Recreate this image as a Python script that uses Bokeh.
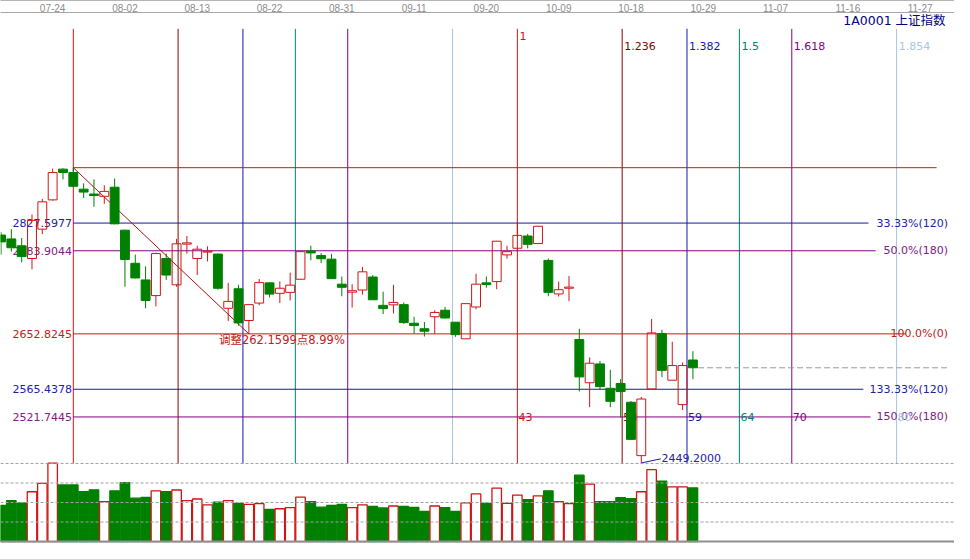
import numpy as np
from bokeh.plotting import figure
from bokeh.models import Range1d, LinearAxis, FixedTicker, Span, ColumnDataSource
from bokeh.core.properties import value
from bokeh.embed import file_html
from bokeh.resources import INLINE

# ---------------- data ----------------
opens = [2808.7, 2802.6, 2791.8, 2771.7, 2818.0, 2864.2, 2912.7, 2907.3, 2881.1, 2873.4,
         2869.8, 2884.2, 2816.4, 2764.1, 2737.9, 2713.2, 2771.7, 2730.2, 2794.4, 2771.7,
         2781.8, 2778.7, 2693.2, 2724.0, 2673.9, 2701.4, 2733.3, 2716.8, 2718.3, 2739.0,
         2783.6, 2776.4, 2770.7, 2731.2, 2718.6, 2722.0, 2742.5, 2697.8, 2698.6, 2698.9,
         2669.6, 2660.9, 2679.8, 2690.1, 2671.2, 2645.0, 2695.2, 2733.3, 2735.3, 2777.4,
         2787.9, 2807.2, 2795.3, 2768.7, 2715.8, 2724.8, 2643.9, 2575.7, 2605.4, 2566.9,
         2574.6, 2544.9, 2460.7, 2565.9, 2653.2, 2579.7, 2541.2, 2611.6]
highs = [2813.3, 2818.0, 2804.1, 2841.1, 2865.7, 2913.5, 2914.2, 2914.98, 2890.3, 2896.5,
         2887.2, 2898.0, 2817.2, 2777.9, 2759.4, 2781.0, 2779.5, 2802.6, 2807.2, 2791.8,
         2791.0, 2779.5, 2733.3, 2730.2, 2699.4, 2739.4, 2734.0, 2735.6, 2749.4, 2783.3,
         2791.8, 2780.2, 2779.0, 2743.3, 2731.2, 2758.4, 2745.6, 2719.4, 2730.2, 2702.4,
         2679.8, 2671.6, 2690.1, 2695.2, 2671.7, 2700.9, 2747.6, 2743.3, 2799.5, 2791.8,
         2828.0, 2810.7, 2823.3, 2771.8, 2735.2, 2744.0, 2660.9, 2615.7, 2610.1, 2596.2,
         2581.6, 2546.9, 2553.5, 2676.3, 2659.3, 2640.4, 2607.7, 2625.4]
lows = [2777.9, 2782.5, 2765.6, 2754.8, 2810.3, 2863.0, 2896.5, 2884.2, 2867.2, 2853.4,
        2858.0, 2825.7, 2727.1, 2740.2, 2693.2, 2696.3, 2737.9, 2727.1, 2779.5, 2745.6,
        2767.1, 2722.5, 2673.2, 2665.5, 2652.82, 2697.8, 2710.2, 2701.4, 2705.5, 2738.7,
        2769.0, 2764.5, 2739.4, 2712.2, 2694.3, 2714.8, 2706.3, 2684.0, 2685.0, 2668.6,
        2653.2, 2648.6, 2653.2, 2677.3, 2648.1, 2644.7, 2691.7, 2725.6, 2723.3, 2771.7,
        2782.5, 2787.6, 2794.9, 2712.2, 2711.7, 2704.4, 2561.9, 2537.2, 2565.4, 2537.2,
        2520.7, 2485.3, 2449.2, 2565.4, 2584.6, 2579.3, 2532.6, 2581.3]
closes = [2797.9, 2788.7, 2774.8, 2831.8, 2861.1, 2907.3, 2907.3, 2885.7, 2876.5, 2871.1,
          2877.6, 2826.4, 2770.2, 2741.0, 2705.5, 2779.5, 2745.6, 2794.9, 2796.4, 2786.4,
          2783.3, 2724.8, 2704.0, 2670.1, 2698.9, 2733.7, 2715.6, 2724.8, 2729.7, 2782.5,
          2780.5, 2771.3, 2739.9, 2726.3, 2720.9, 2750.7, 2706.6, 2692.7, 2702.4, 2670.6,
          2665.9, 2657.0, 2686.6, 2677.8, 2651.6, 2700.5, 2731.2, 2730.6, 2799.0, 2782.5,
          2808.2, 2794.1, 2822.6, 2718.3, 2722.5, 2726.6, 2584.9, 2606.5, 2569.6, 2546.4,
          2561.8, 2486.4, 2550.0, 2654.3, 2595.2, 2602.8, 2602.8, 2599.3]
volumes = [92.5, 105, 99, 127.5, 149, 201, 145, 145, 127.5, 132.5,
           102.5, 130, 151, 111, 113, 130, 128, 132, 105, 109,
           94, 101, 105, 98, 95, 97, 82.5, 84, 87, 114,
           102.5, 88, 92.5, 95, 87, 94, 90, 86, 91, 90,
           87.5, 77.5, 91, 87, 77.5, 99, 122, 98, 137, 98,
           119, 107.5, 117, 130, 102.5, 97, 170, 147, 102.5, 102.5,
           112.5, 110, 127.5, 184, 155, 140, 140, 137.5]

tick_index = [5, 12, 19, 26, 33, 40, 47, 54, 61, 68, 75, 82, 89]
tick_labels = ["07-24", "08-02", "08-13", "08-22", "08-31", "09-11", "09-20",
               "10-09", "10-18", "10-29", "11-07", "11-16", "11-27"]

swing_start = 7
swing_len = 43
fib_ratios = [0, 0.236, 0.382, 0.5, 0.618, 0.854, 1, 1.236, 1.382, 1.5, 1.618, 1.854]
fib_top_labels = ["", "", "", "", "", "", "1", "1.236", "1.382", "1.5", "1.618", "1.854"]
fib_counts = ["", "", "", "", "", "", "43", "53", "59", "64", "70", "80"]

levels = [2914.9844, 2827.5977, 2783.9044, 2652.8245, 2565.4378, 2521.7445]
level_left = ["", "2827.5977", "2783.9044", "2652.8245", "2565.4378", "2521.7445"]
level_right = ["", "33.33%(120)", "50.0%(180)", "100.0%(0)", "133.33%(120)", "150.0%(180)"]

swing_high = 2914.9844
swing_low = 2652.8245
swing_low_idx = 24
drop_points = 262.1599
drop_pct = 8.99
low_price = 2449.2
low_idx = 62
vol_grid = [50, 100, 150, 200]
title_text = "1A0001  上证指数"

# ---------------- styles ----------------
RED = "#d01515"
GREEN = "#008000"
NAVY = "#1818a8"
fib_cycle = ["#d01515", "#8a0000", NAVY, "#00806e", "#800080", "#a8c6e0"]
level_colors = ["#d01515", NAVY, "#800080", "#d01515", NAVY, "#800080"]
label_colors = ["#c02020", "#2020a8", "#802080", "#c02020", "#2020a8", "#802080"]
level_end = [90.6, 84.0, 84.7, 87.6, 83.5, 84.2]
FONT = value("DejaVu Sans")
CJK_FONT = value("DejaVu Sans, Noto Sans CJK SC")

p = figure(width=954, height=543, x_range=Range1d(-0.05, 92.33),
           y_range=Range1d(2322.1, 3159.8), x_axis_location=None, y_axis_location=None,
           toolbar_location=None, output_backend="svg", min_border=0)
p.min_border_top = 3
p.extra_y_ranges = {"vol": Range1d(-5, 1355)}
p.grid.visible = False
p.outline_line_color = None
p.background_fill_color = "white"
p.border_fill_color = "white"

xax = LinearAxis(ticker=FixedTicker(ticks=tick_index),
                 major_label_overrides={t: l for t, l in zip(tick_index, tick_labels)})
xax.major_label_text_font = "Liberation Sans"
xax.major_label_text_font_size = "10px"
xax.major_label_text_color = "#8c8c8c"
xax.axis_line_color = "#a8a8a8"
xax.major_tick_in = 0
xax.major_tick_out = 0
xax.minor_tick_in = 0
xax.minor_tick_out = 0
xax.major_label_standoff = 1
p.add_layout(xax, "above")

# thin upper border line of the date strip
border_ax = LinearAxis(ticker=FixedTicker(ticks=[]))
border_ax.axis_line_color = "#b4b4b4"
border_ax.major_tick_in = 0
border_ax.major_tick_out = 0
border_ax.minor_tick_in = 0
border_ax.minor_tick_out = 0
border_ax.major_label_standoff = 0
p.add_layout(border_ax, "above")

panel_bottom = low_price - 0.8
fib_top = 3134.0

# fib vertical lines
fx = [swing_start + r * swing_len for r in fib_ratios]
fcol = [fib_cycle[i % 6] for i in range(len(fib_ratios))]
p.segment(x0=fx, y0=[fib_top] * len(fx), x1=fx, y1=[panel_bottom] * len(fx),
          line_color=fcol, line_width=1)

# horizontal levels
p.segment(x0=[swing_start] * len(levels), y0=levels, x1=level_end, y1=levels,
          line_color=level_colors, line_width=1)

# labels of levels (left and right)
p.text(x=[swing_start - 0.12] * 5, y=levels[1:], text=level_left[1:], text_color=label_colors[1:],
       text_font=FONT, text_font_size=value("11px"), text_align="right", text_baseline="middle")
p.text(x=[91.7] * 5, y=levels[1:], text=level_right[1:], text_color=label_colors[1:],
       text_font=FONT, text_font_size=value("11px"), text_align="right", text_baseline="middle")

# fib top labels
top_y = [3122.5 if t == "1" else 3107.5 for t in fib_top_labels]
sel = [i for i, t in enumerate(fib_top_labels) if t]
p.text(x=[fx[i] + 0.2 for i in sel], y=[top_y[i] for i in sel], text=[fib_top_labels[i] for i in sel],
       text_color=[fcol[i] for i in sel], text_font=FONT, text_font_size=value("11px"),
       text_align="left", text_baseline="middle")
# fib count labels on the 150% line
p.text(x=[fx[i] + 0.1 for i in sel], y=[levels[-1]] * len(sel), text=[fib_counts[i] for i in sel],
       text_color=[fcol[i] for i in sel], text_font=FONT, text_font_size=value("11px"),
       text_align="left", text_baseline="middle")

# swing diagonal
p.line(x=[swing_start, swing_low_idx], y=[swing_high, swing_low], line_color="#b01010", line_width=1)
p.text(x=[21.1], y=[swing_low - 10.4], text=[f"调整{drop_points:.4f}点{drop_pct:.2f}%"],
       text_color="#c02020", text_font=CJK_FONT, text_font_size=value("11.5px"),
       text_align="left", text_baseline="middle")

# last price line
p.segment(x0=[len(closes) - 0.5], y0=[closes[-1]], x1=[91.6], y1=[closes[-1]],
          line_color="#9a9a9a", line_width=1, line_dash="6 3")

# candles
idx = np.arange(len(closes))
o = np.array(opens); c = np.array(closes); h = np.array(highs); l = np.array(lows)
up = c >= o
btop = np.maximum(o, c); bbot = np.minimum(o, c)
col = np.where(up, RED, GREEN)
src = ColumnDataSource(dict(x=idx, h=h, l=l, bt=btop, bb=bbot, col=col,
                            fill=np.where(up, "white", GREEN),
                            falpha=np.where(up, 0.0, 1.0),
                            vol=np.array(volumes, dtype=float)))
p.segment(x0="x", y0="h", x1="x", y1="bt", line_color="col", line_width=1, source=src)
p.segment(x0="x", y0="bb", x1="x", y1="l", line_color="col", line_width=1, source=src)
p.vbar(x="x", bottom="bb", top="bt", width=0.86, fill_color="fill", fill_alpha="falpha",
       line_color="col", line_width=1, source=src)

# lowest point label
p.line(x=[low_idx, low_idx + 1.9], y=[low_price, low_price + 6.5], line_color=NAVY, line_width=1)
p.text(x=[low_idx + 1.95], y=[low_price + 7.5], text=[f"{low_price:.4f}"], text_color="#2020a8",
       text_font=FONT, text_font_size=value("11px"), text_align="left", text_baseline="middle")

# title
p.text(x=[91.85], y=[3146.5], text=[title_text], text_color="#000080", text_font=CJK_FONT,
       text_font_size=value("12.5px"), text_align="right", text_baseline="middle")

# volume panel
for g in vol_grid:
    p.add_layout(Span(location=g, dimension="width", y_range_name="vol",
                      line_color="#a0a0a0", line_width=1, line_dash="3 2"))
p.add_layout(Span(location=0, dimension="width", y_range_name="vol",
                  line_color="#8f8f8f", line_width=2))
p.vbar(x="x", bottom=0, top="vol", width=0.92, fill_color="fill", fill_alpha="falpha",
       line_color="col", line_width=1.3, y_range_name="vol", source=src)

open("out.html", "w").write(file_html(p, INLINE))
